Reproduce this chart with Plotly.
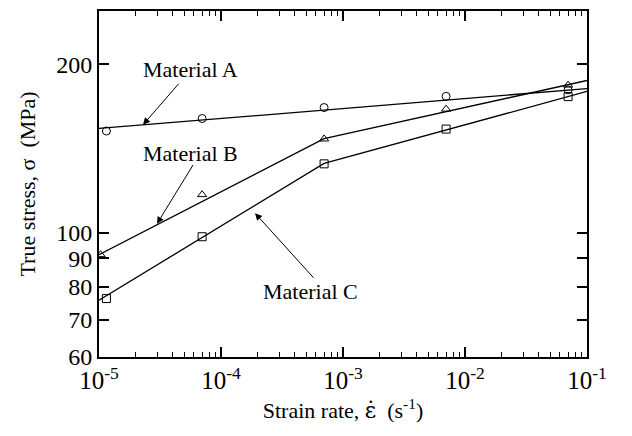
import numpy as np
import plotly.graph_objects as go

# ---- data ----
strain_rate = [1.15e-5, 7.0e-5, 7.0e-4, 7.0e-3, 7.0e-2]
strain_rate_b = [1.03e-5, 7.0e-5, 7.0e-4, 7.0e-3, 7.0e-2]
stress_a = [152.0, 160.0, 167.4, 175.3, 180.0]
stress_b = [91.4, 117.0, 147.1, 166.3, 183.6]
stress_c = [76.3, 98.4, 132.8, 153.2, 175.1]

fit_a_x = [1e-5, 1e-1]
fit_a_y = [153.6, 181.0]
fit_b_x = [1e-5, 7e-4, 1e-1]
fit_b_y = [91.4, 147.3, 187.1]
fit_c_x = [1e-5, 7e-4, 1e-1]
fit_c_y = [75.8, 133.0, 178.9]

x_ticks = [1e-5, 1e-4, 1e-3, 1e-2, 1e-1]
x_ticktext = ["10<sup>-5</sup>", "10<sup>-4</sup>", "10<sup>-3</sup>", "10<sup>-2</sup>", "10<sup>-1</sup>"]
y_ticks = [60, 70, 80, 90, 100, 200]
y_ticktext = ["60", "70", "80", "90", "100", "200"]

labels = ["Material A", "Material B", "Material C"]
# label centre (log10 x, log10 y), arrow tail, arrow tip
label_pos = [(-4.254, 2.292), (-4.254, 2.1416), (-3.270, 1.8956)]
arrow_tail = [(-4.336, 2.269), (-4.221, 2.124), (-3.230, 1.917)]
arrow_tip = [(-4.639, 2.193), (-4.525, 2.016), (-3.721, 2.035)]

FONT = "Liberation Serif, Times New Roman, serif"
line_style = dict(color="black", width=1.3)

fig = go.Figure()
for fx, fy in [(fit_a_x, fit_a_y), (fit_b_x, fit_b_y), (fit_c_x, fit_c_y)]:
    fig.add_trace(go.Scatter(x=fx, y=fy, mode="lines", line=line_style, showlegend=False, hoverinfo="skip"))

fig.add_trace(go.Scatter(x=strain_rate, y=stress_a, mode="markers",
                         marker=dict(symbol="circle-open", size=8, color="black", line=dict(width=1)),
                         showlegend=False))
fig.add_trace(go.Scatter(x=strain_rate_b, y=stress_b, mode="markers",
                         marker=dict(symbol="triangle-up-open", size=8, color="black", line=dict(width=1)),
                         showlegend=False))
fig.add_trace(go.Scatter(x=strain_rate, y=stress_c, mode="markers",
                         marker=dict(symbol="square-open", size=8, color="black", line=dict(width=1)),
                         showlegend=False))

annotations = []
for txt, (lx, ly), (tx, ty), (hx, hy) in zip(labels, label_pos, arrow_tail, arrow_tip):
    annotations.append(dict(x=lx, y=ly, xref="x", yref="y", text=txt, showarrow=False,
                            font=dict(family=FONT, size=22, color="black"), xanchor="center", yanchor="middle"))
    annotations.append(dict(x=hx, y=hy, xref="x", yref="y", ax=tx, ay=ty, axref="x", ayref="y",
                            text="", showarrow=True, arrowhead=2, arrowsize=1.4, arrowwidth=1,
                            arrowcolor="black"))

minor_vals = [m * 10.0 ** e for e in range(-5, -1) for m in range(2, 10)]

x_title = ("Strain rate, <span style=\"font-family:'DejaVu Serif'\">\u03b5\u0307</span>"
           "\u00a0\u00a0(s<sup>-1</sup>)")

# the page body adds an 8px offset; the figure is sized to fit the window
fig.update_layout(
    width=616, height=420,
    margin=dict(l=91, r=37, t=1, b=71),
    paper_bgcolor="white", plot_bgcolor="white",
    font=dict(family=FONT, color="black"),
    annotations=annotations,
    xaxis=dict(
        type="log", range=[-5, -1],
        tickmode="array", tickvals=x_ticks, ticktext=x_ticktext,
        ticks="inside", ticklen=10, tickwidth=1.5, tickcolor="black",
        minor=dict(tickmode="array", tickvals=minor_vals, ticks="inside", ticklen=5, tickwidth=1.3, tickcolor="black", showgrid=False),
        showline=True, linewidth=2, linecolor="black", mirror="allticks",
        showgrid=False, zeroline=False,
        tickfont=dict(family=FONT, size=25, color="black"),
        title=dict(text=x_title, font=dict(family=FONT, size=22, color="black"), standoff=10),
    ),
    yaxis=dict(
        type="log", range=[np.log10(60), np.log10(249)],
        tickmode="array", tickvals=y_ticks, ticktext=y_ticktext,
        ticks="inside", ticklen=10, tickwidth=1.5, tickcolor="black",
        showline=True, linewidth=2, linecolor="black", mirror="ticks",
        showgrid=False, zeroline=False,
        tickfont=dict(family=FONT, size=24, color="black"),
        title=dict(text="True stress, \u03c3\u00a0\u00a0(MPa)", font=dict(family=FONT, size=22, color="black"), standoff=15),
    ),
)

fig.write_html("out.html")
